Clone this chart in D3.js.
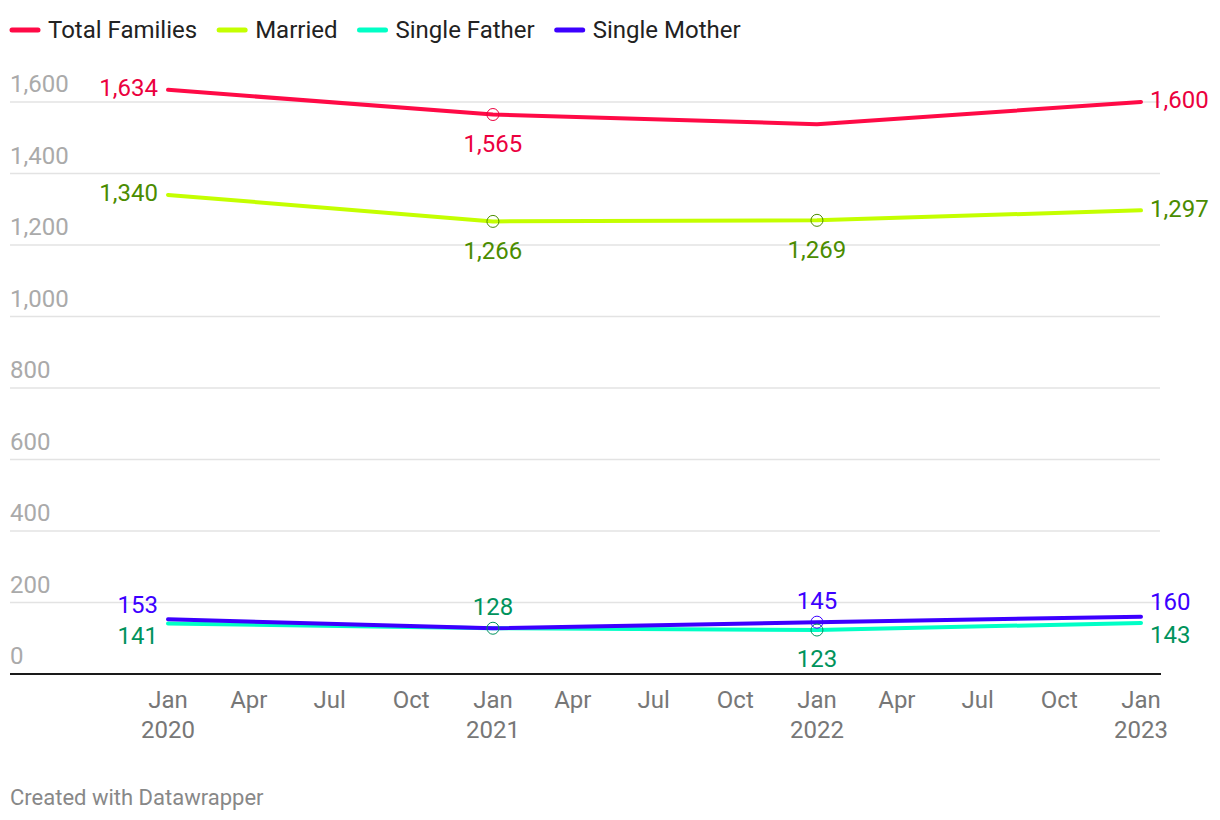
<!DOCTYPE html>
<html>
<head>
<meta charset="utf-8">
<script src="https://cdn.jsdelivr.net/npm/d3@7"></script>
<style>
    body { margin: 0; background: #fff; }
    svg { font-family: Roboto, "Noto Sans", sans-serif; }
</style>
</head>
<body>
<div id="chart"></div>
<script>
// data
const dates = ["2020-01-01", "2021-01-01", "2022-01-01", "2023-01-01"];
const seriesNames = ["Total Families", "Married", "Single Father", "Single Mother"];
const totalFamilies = [1634, 1565, 1538, 1600];
const married = [1340, 1266, 1269, 1297];
const singleFather = [141, 128, 123, 143];
const singleMother = [153, 128, 145, 160];
const yTicks = [0, 200, 400, 600, 800, 1000, 1200, 1400, 1600];

// where each value label sits (null = no label)
const labelPlace = {
    "Total Families": ["left", "below", null, "right"],
    "Married": ["left", "below", "below", "right"],
    "Single Father": ["left-low", "above", "below", "right-low"],
    "Single Mother": ["left-high", null, "above", "right-high"]
};
const lineColors = ["#ff0a46", "#c4ff00", "#00ffc6", "#3c00ff"];
const labelColors = ["#eb003e", "#4a8c00", "#00935c", "#3c00ff"];

const W = 1220, H = 820;
const FS = 24;
const parse = d3.timeParse("%Y-%m-%d");
const series = [totalFamilies, married, singleFather, singleMother].map((vals, i) => ({
    name: seriesNames[i],
    line: lineColors[i],
    label: labelColors[i],
    points: vals.map((v, j) => ({ date: parse(dates[j]), value: v, place: labelPlace[seriesNames[i]][j] }))
}));

const svg = d3.select("#chart").append("svg")
    .attr("width", W)
    .attr("height", H);

const x = d3.scaleTime()
    .domain([parse(dates[0]), parse(dates[dates.length - 1])])
    .range([168, 1141]);
const y = d3.scaleLinear()
    .domain([0, 1600])
    .range([674, 102]);

// legend
const legend = svg.append("g").attr("transform", "translate(10,30)");
let lx = 0;
series.forEach(s => {
    const g = legend.append("g").attr("transform", `translate(${lx},0)`);
    g.append("line")
        .attr("x1", 2).attr("x2", 28)
        .attr("stroke", s.line)
        .attr("stroke-width", 5)
        .attr("stroke-linecap", "round");
    const t = g.append("text")
        .attr("x", 38)
        .attr("dy", "0.35em")
        .attr("font-size", FS)
        .attr("fill", "#222")
        .text(s.name);
    lx += 38 + t.node().getComputedTextLength() + 20;
});

// y grid + labels
const grid = svg.append("g");
grid.selectAll("line").data(yTicks.filter(d => d > 0)).enter()
    .append("line")
    .attr("x1", 10).attr("x2", 1160)
    .attr("y1", d => y(d)).attr("y2", d => y(d))
    .attr("stroke", "#e3e3e3")
    .attr("stroke-width", 1.5);
grid.selectAll("text").data(yTicks).enter()
    .append("text")
    .attr("x", 10)
    .attr("y", d => y(d) - 10)
    .attr("font-size", FS)
    .attr("fill", "#aaaaaa")
    .text(d => d3.format(",")(d));

svg.append("line")
    .attr("x1", 10).attr("x2", 1161)
    .attr("y1", y(0)).attr("y2", y(0))
    .attr("stroke", "#1a1a1a")
    .attr("stroke-width", 2);

// x axis ticks every 3 months
const xTicks = x.ticks(d3.timeMonth.every(3));
const xg = svg.append("g").selectAll("g").data(xTicks).enter()
    .append("g")
    .attr("transform", d => `translate(${x(d)},0)`);
xg.append("text")
    .attr("y", 708)
    .attr("text-anchor", "middle")
    .attr("font-size", FS)
    .attr("fill", "#777")
    .text(d3.timeFormat("%b"));
xg.filter(d => d.getMonth() === 0).append("text")
    .attr("y", 738)
    .attr("text-anchor", "middle")
    .attr("font-size", FS)
    .attr("fill", "#777")
    .text(d3.timeFormat("%Y"));

// lines
const line = d3.line()
    .x(d => x(d.date))
    .y(d => y(d.value));

const lines = svg.append("g");
// draw bottom series first so the mother line sits on top
[1, 0, 2, 3].forEach(i => {
    const s = series[i];
    lines.append("path")
        .datum(s.points)
        .attr("fill", "none")
        .attr("stroke", s.line)
        .attr("stroke-width", 4)
        .attr("stroke-linecap", "round")
        .attr("stroke-linejoin", "round")
        .attr("d", line);
});

// markers and value labels
const marks = svg.append("g");
series.forEach(s => {
    s.points.forEach((p, j) => {
        if (!p.place) return;
        const px = x(p.date), py = y(p.value);
        const interior = j > 0 && j < s.points.length - 1;
        if (interior) {
            marks.append("circle")
                .attr("cx", px).attr("cy", py)
                .attr("r", 6)
                .attr("fill", "none")
                .attr("stroke", s.label)
                .attr("stroke-width", 1);
        }
        let tx = px, ty = py, anchor = "middle";
        if (p.place.startsWith("left")) { tx = px - 10; anchor = "end"; }
        if (p.place.startsWith("right")) { tx = px + 9; anchor = "start"; }
        if (p.place.endsWith("high")) ty = py - 15;
        if (p.place.endsWith("low")) ty = py + 12;
        if (p.place === "left" || p.place === "right") ty = py - 2;
        if (p.place === "above") ty = py - 22;
        if (p.place === "below") ty = py + 29;
        marks.append("text")
            .attr("x", tx).attr("y", ty)
            .attr("dy", "0.35em")
            .attr("text-anchor", anchor)
            .attr("font-size", FS)
            .attr("fill", s.label)
            .text(d3.format(",")(p.value));
    });
});

svg.append("text")
    .attr("x", 10).attr("y", 805)
    .attr("font-size", 22)
    .attr("fill", "#888")
    .text("Created with Datawrapper");
</script>
</body>
</html>
